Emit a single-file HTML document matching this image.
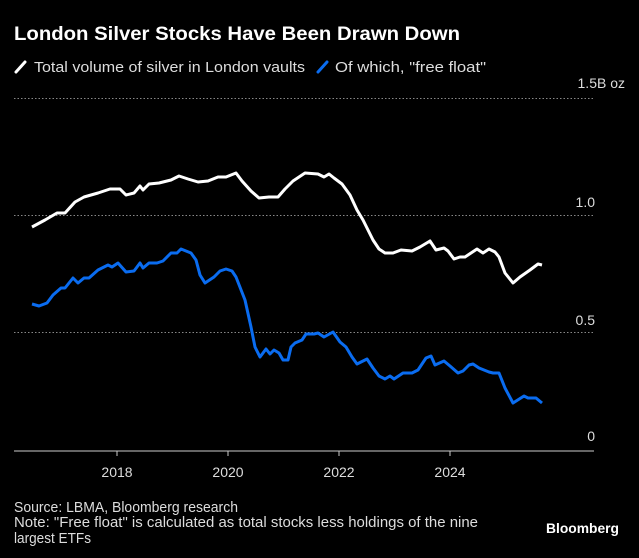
<!DOCTYPE html>
<html><head><meta charset="utf-8"><style>
html,body{margin:0;padding:0;background:#000;}
svg{display:block;}
text{font-family:"Liberation Sans",sans-serif;fill:#ddd;}
</style></head><body>
<svg width="639" height="558" viewBox="0 0 639 558" xmlns="http://www.w3.org/2000/svg">
<rect width="639" height="558" fill="#000"/>
<text x="14" y="40" font-weight="bold" font-size="19" textLength="446" lengthAdjust="spacingAndGlyphs" style="fill:#fff">London Silver Stocks Have Been Drawn Down</text>
<line x1="16" y1="72" x2="25" y2="62" stroke="#fff" stroke-width="3" stroke-linecap="round"/>
<text x="34" y="72" font-size="15" textLength="271" lengthAdjust="spacingAndGlyphs">Total volume of silver in London vaults</text>
<line x1="318" y1="72" x2="327" y2="62" stroke="#0a6cf0" stroke-width="3" stroke-linecap="round"/>
<text x="335" y="72" font-size="15" textLength="151" lengthAdjust="spacingAndGlyphs">Of which, "free float"</text>
<g stroke="#888" stroke-width="1" stroke-dasharray="1.5,2">
<line x1="14" y1="98.5" x2="594" y2="98.5"/>
<line x1="14" y1="215.5" x2="594" y2="215.5"/>
<line x1="14" y1="332.5" x2="594" y2="332.5"/>
</g>
<g font-size="14" text-anchor="end">
<text x="625" y="88">1.5B oz</text>
<text x="595" y="207">1.0</text>
<text x="595" y="325">0.5</text>
<text x="595" y="441">0</text>
</g>
<line x1="14" y1="451" x2="594" y2="451" stroke="#ccc" stroke-width="1"/>
<g stroke="#ccc"><line x1="117" y1="451" x2="117" y2="456"/><line x1="228" y1="451" x2="228" y2="456"/><line x1="339" y1="451" x2="339" y2="456"/><line x1="450" y1="451" x2="450" y2="456"/></g>
<g font-size="14" text-anchor="middle">
<text x="117" y="477">2018</text><text x="228" y="477">2020</text><text x="339" y="477">2022</text><text x="450" y="477">2024</text>
</g>
<polyline fill="none" stroke="#fff" stroke-width="3" stroke-linejoin="round" points="32,227 45,220 57,213 65,213 75,202 84,197 98,193 110,189 120,189 126,195 134,193 140,186 143,190 149,184 159,183 171,180 179,176 188,179 198,182 208,181 218,177 226,177 236,173 242,181 251,191 259,198 269,197 278,197 285,189 293,181 305,173 318,174 324,177 329,174 334,178 342,184 350,195 357,210 363,220 373,240 379,249 385,253 393,253 401,250 412,251 420,247 430,241 436,250 444,248 448,251 454,259 460,257 465,257 477,249 483,253 489,249 495,252 499,257 505,273 513,283 520,277 530,270 538,264 542,265"/>
<polyline fill="none" stroke="#0a6cf0" stroke-width="3" stroke-linejoin="round" points="32,304 39,306 47,303 53,295 61,288 65,288 73,278 78,283 84,278 89,278 98,270 108,265 112,267 118,263 126,272 134,271 140,263 143,268 149,263 157,263 163,261 171,253 177,253 181,249 191,253 196,260 200,275 205,283 214,277 220,271 226,269 232,271 236,277 245,300 251,327 255,347 260,357 266,349 270,354 274,350 279,353 283,360 288,360 291,347 295,343 302,340 306,334 314,334 318,333 324,337 333,332 340,342 346,347 352,357 357,364 367,359 373,368 379,376 385,379 390,376 394,379 403,373 412,373 418,370 426,358 431,356 435,365 444,361 450,366 458,373 463,371 469,365 473,364 479,368 489,372 493,373 499,373 505,388 513,403 524,396 528,398 536,398 542,403"/>
<g font-size="15">
<text x="14" y="512" textLength="224" lengthAdjust="spacingAndGlyphs">Source: LBMA, Bloomberg research</text>
<text x="14" y="527" textLength="464" lengthAdjust="spacingAndGlyphs">Note: "Free float" is calculated as total stocks less holdings of the nine</text>
<text x="14" y="543" textLength="77" lengthAdjust="spacingAndGlyphs">largest ETFs</text>
</g>
<text x="546" y="533" font-size="14" font-weight="bold" textLength="73" lengthAdjust="spacingAndGlyphs" style="fill:#fff">Bloomberg</text>
</svg>
</body></html>
